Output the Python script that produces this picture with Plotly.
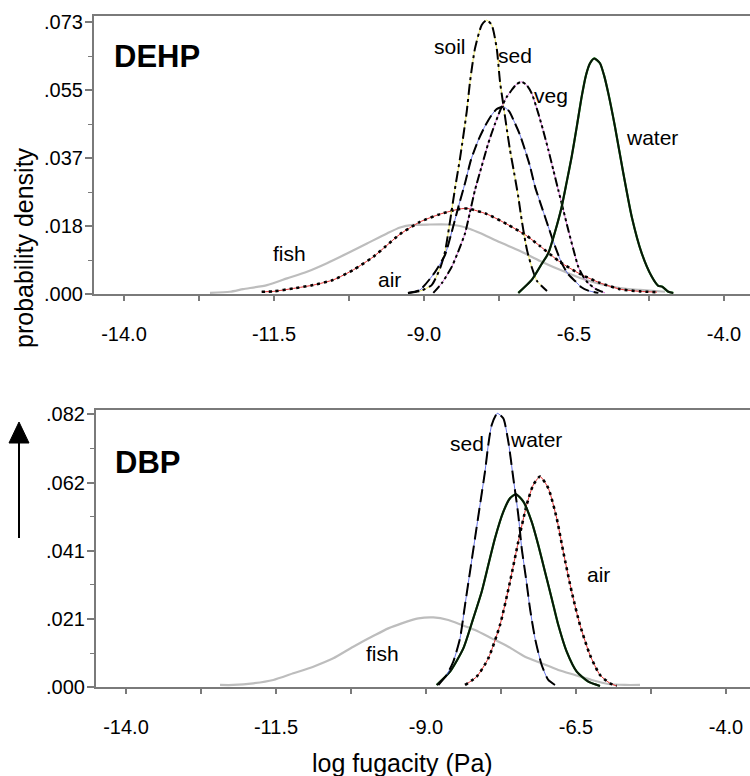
import plotly.graph_objects as go

# ---------------- DATA ----------------
# Top panel: DEHP
dehp_water_x = [-7.428, -7.205, -7.05, -6.928, -6.817, -6.705, -6.622, -6.538, -6.455, -6.372, -6.3, -6.233,
                -6.162, -6.067, -6.0, -5.928, -5.817, -5.678, -5.538, -5.372, -5.205, -5.095, -5.033, -4.928, -4.845]
dehp_water_y = [0.0003, 0.0038, 0.0078, 0.0110, 0.0167, 0.0235, 0.0301, 0.0370, 0.0449, 0.0531, 0.0589, 0.0621,
                0.0634, 0.0621, 0.0589, 0.0540, 0.0450, 0.0325, 0.0208, 0.0110, 0.0047, 0.0022, 0.0020, 0.0006, 0.0003]

dehp_soil_x = [-9.267, -9.067, -8.872, -8.733, -8.65, -8.567, -8.483, -8.4, -8.288, -8.233, -8.15, -8.038, -7.955,
               -7.872, -7.788, -7.733, -7.678, -7.617, -7.567, -7.5, -7.433, -7.367, -7.283, -7.2, -7.117, -6.95]
dehp_soil_y = [0.0003, 0.0008, 0.0024, 0.0069, 0.0114, 0.0195, 0.0284, 0.0365, 0.0491, 0.0571, 0.0661, 0.0724, 0.0737,
               0.0724, 0.0661, 0.0571, 0.0509, 0.0441, 0.0388, 0.0328, 0.0266, 0.0194, 0.0118, 0.0070, 0.0035, 0.0008]

dehp_sed_x = [-9.267, -9.067, -8.817, -8.65, -8.538, -8.433, -8.317, -8.217, -8.095, -7.983, -7.872, -7.783, -7.678,
              -7.583, -7.483, -7.4, -7.317, -7.233, -7.15, -7.05, -6.928, -6.817, -6.705, -6.6, -6.483, -6.383, -6.262, -6.095]
dehp_sed_y = [0.0003, 0.0011, 0.0059, 0.0105, 0.0167, 0.0231, 0.0298, 0.0361, 0.0414, 0.0452, 0.0482, 0.0498, 0.0504,
              0.0492, 0.0459, 0.0428, 0.0388, 0.0344, 0.0289, 0.0240, 0.0181, 0.0129, 0.0083, 0.0054, 0.0035, 0.0019, 0.0009, 0.0003]

dehp_veg_x = [-8.845, -8.7, -8.538, -8.433, -8.317, -8.233, -8.15, -8.038, -7.928, -7.817, -7.705, -7.622, -7.538, -7.455,
              -7.372, -7.288, -7.205, -7.095, -7.012, -6.928, -6.845, -6.762, -6.678, -6.595, -6.512, -6.428, -6.35, -6.262,
              -6.133, -5.983]
dehp_veg_y = [0.0003, 0.0030, 0.0073, 0.0113, 0.0163, 0.0221, 0.0280, 0.0344, 0.0406, 0.0458, 0.0504, 0.0530, 0.0549, 0.0565,
              0.0571, 0.0562, 0.0540, 0.0486, 0.0439, 0.0388, 0.0334, 0.0280, 0.0226, 0.0172, 0.0121, 0.0073, 0.0048, 0.0029,
              0.0013, 0.0003]

dehp_air_x = [-11.705, -11.512, -11.178, -10.845, -10.512, -10.178, -9.845, -9.633, -9.4, -9.067, -8.733, -8.4, -8.267,
              -7.95, -7.617, -7.283, -7.067, -6.733, -6.4, -6.067, -5.733, -5.4, -5.117]
dehp_air_y = [0.0006, 0.0007, 0.0015, 0.0024, 0.0038, 0.0065, 0.0100, 0.0129, 0.0161, 0.0194, 0.0215, 0.0229, 0.0230,
              0.0215, 0.0188, 0.0156, 0.0129, 0.0086, 0.0054, 0.0030, 0.0013, 0.0007, 0.0005]

dehp_fish_x = [-12.567, -12.233, -12.017, -11.617, -11.283, -10.95, -10.617, -10.283, -9.95, -9.617, -9.4, -9.183, -8.9,
               -8.617, -8.4, -8.233, -8.067, -7.733, -7.4, -7.067, -6.733, -6.4, -6.067, -5.733, -5.4, -4.983]
dehp_fish_y = [0.0003, 0.0006, 0.0013, 0.0024, 0.0042, 0.0060, 0.0083, 0.0109, 0.0136, 0.0163, 0.0179, 0.0186, 0.0187,
               0.0187, 0.0183, 0.0175, 0.0164, 0.0139, 0.0116, 0.0089, 0.0065, 0.0043, 0.0027, 0.0016, 0.0011, 0.0006]

# Bottom panel: DBP
dbp_sed_x = [-8.795, -8.655, -8.545, -8.433, -8.35, -8.267, -8.183, -8.1, -8.017, -7.962, -7.905, -7.812, -7.712, -7.628,
             -7.545, -7.462, -7.405, -7.333, -7.267, -7.183, -7.072, -6.962, -6.85]
dbp_sed_y = [0.0007, 0.0037, 0.0077, 0.0147, 0.0247, 0.0347, 0.0448, 0.0548, 0.0648, 0.0728, 0.0788, 0.0823, 0.0808, 0.0738,
             0.0628, 0.0518, 0.0418, 0.0327, 0.0237, 0.0147, 0.0067, 0.0022, 0.0007]

dbp_water_x = [-8.822, -8.6, -8.378, -8.212, -8.072, -7.962, -7.85, -7.712, -7.6, -7.5, -7.378, -7.238, -7.128, -7.017,
               -6.905, -6.795, -6.655, -6.488, -6.295, -6.1]
dbp_water_y = [0.0007, 0.0047, 0.0117, 0.0207, 0.0287, 0.0367, 0.0448, 0.0527, 0.0568, 0.0580, 0.0558, 0.0497, 0.0427, 0.0347,
               0.0267, 0.0187, 0.0107, 0.0047, 0.0017, 0.0004]

dbp_air_x = [-8.35, -8.155, -7.962, -7.767, -7.6, -7.462, -7.322, -7.212, -7.1, -6.962, -6.822, -6.712, -6.572, -6.433,
             -6.267, -6.1, -5.933, -5.822]
dbp_air_y = [0.0007, 0.0032, 0.0087, 0.0187, 0.0317, 0.0437, 0.0548, 0.0608, 0.0633, 0.0598, 0.0508, 0.0407, 0.0287, 0.0187,
             0.0097, 0.0037, 0.0012, 0.0004]

dbp_fish_x = [-12.433, -12.212, -11.878, -11.545, -11.212, -10.878, -10.545, -10.212, -9.85, -9.628, -9.405, -9.128, -8.878,
              -8.628, -8.405, -8.183, -7.905, -7.628, -7.35, -7.072, -6.795, -6.517, -6.238, -5.962, -5.683, -5.433]
dbp_fish_y = [0.0007, 0.0007, 0.0012, 0.0022, 0.0042, 0.0062, 0.0087, 0.0122, 0.0157, 0.0177, 0.0192, 0.0207, 0.0210,
              0.0202, 0.0187, 0.0172, 0.0147, 0.0122, 0.0092, 0.0072, 0.0052, 0.0037, 0.0022, 0.0010, 0.0007, 0.0007]

x_tickvals = [-14.0, -11.5, -9.0, -6.5, -4.0]
x_ticktext = ["-14.0", "-11.5", "-9.0", "-6.5", "-4.0"]
top_tickvals = [0.0, 0.0183, 0.0366, 0.0549, 0.0732]
top_ticktext = [".000", ".018", ".037", ".055", ".073"]
bot_tickvals = [0.0, 0.0205, 0.041, 0.0615, 0.082]
bot_ticktext = [".000", ".021", ".041", ".062", ".082"]

dehp_labels = [("soil", -8.567, 0.0667), ("sed", -7.483, 0.0643), ("veg", -6.878, 0.0535),
               ("water", -5.2, 0.0420), ("fish", -11.25, 0.0108), ("air", -9.567, 0.0038)]
dbp_labels = [("sed", -8.317, 0.0731), ("water", -7.17, 0.0743), ("air", -6.128, 0.0340),
              ("fish", -9.717, 0.0101)]

# ---------------- FIGURE ----------------
W, H = 750, 776
FONT = "Liberation Sans, Arial, sans-serif"
AX_COL = "#7a7a7a"

fig = go.Figure()


def add_curve(x, y, xa, ya, dash, tint, main="black", width=2.0, tint_width=0.8):
    if tint is not None:
        fig.add_trace(go.Scatter(x=x, y=y, xaxis=xa, yaxis=ya, mode="lines",
                                 line=dict(color=tint, width=tint_width, shape="spline", smoothing=0.6),
                                 hoverinfo="skip", showlegend=False))
    fig.add_trace(go.Scatter(x=x, y=y, xaxis=xa, yaxis=ya, mode="lines",
                             line=dict(color=main, width=width, dash=dash, shape="spline", smoothing=0.6),
                             showlegend=False))


# DEHP panel (x, y)
add_curve(dehp_fish_x, dehp_fish_y, "x", "y", "solid", None, main="#bdbdbd", width=2.2)
add_curve(dehp_air_x, dehp_air_y, "x", "y", "3px,4px", "#e03030", width=2.6, tint_width=1.0)
add_curve(dehp_soil_x, dehp_soil_y, "x", "y", "11px,4px,3px,4px", "#e8e040")
add_curve(dehp_sed_x, dehp_sed_y, "x", "y", "11px,5px", "#4050e0")
add_curve(dehp_veg_x, dehp_veg_y, "x", "y", "9px,3px,3px,3px,3px,3px", "#d050d0")
add_curve(dehp_water_x, dehp_water_y, "x", "y", "solid", "#20a020", main="#0a140a", width=2.0, tint_width=2.2)

# DBP panel (x2, y2)
add_curve(dbp_fish_x, dbp_fish_y, "x2", "y2", "solid", None, main="#bdbdbd", width=2.2)
add_curve(dbp_air_x, dbp_air_y, "x2", "y2", "3px,4px", "#e03030", width=2.6, tint_width=1.0)
add_curve(dbp_water_x, dbp_water_y, "x2", "y2", "solid", "#20a020", main="#0a140a", width=2.0, tint_width=2.2)
add_curve(dbp_sed_x, dbp_sed_y, "x2", "y2", "13px,6px", "#4050e0")

annotations = []
for t, x, y in dehp_labels:
    annotations.append(dict(text=t, x=x, y=y, xref="x", yref="y", showarrow=False,
                            xanchor="center", yanchor="middle",
                            font=dict(family=FONT, size=21, color="black")))
for t, x, y in dbp_labels:
    annotations.append(dict(text=t, x=x, y=y, xref="x2", yref="y2", showarrow=False,
                            xanchor="center", yanchor="middle",
                            font=dict(family=FONT, size=21, color="black")))

paper_txt = [
    ("<b>DEHP</b>", 157, 57, 31, 0),
    ("<b>DBP</b>", 147.5, 462, 31, 0),
    ("log fugacity (Pa)", 402, 763, 25, 0),
    ("probability density", 24, 248, 25, -90),
]
for t, px, py, sz, ang in paper_txt:
    annotations.append(dict(text=t, x=px / W, y=1 - py / H, xref="paper", yref="paper", showarrow=False,
                            xanchor="center", yanchor="middle", textangle=ang,
                            font=dict(family=FONT, size=sz, color="black")))

shapes = [
    dict(type="line", xref="paper", yref="paper", x0=19 / W, x1=19 / W, y0=1 - 538 / H, y1=1 - 440 / H,
         line=dict(color="black", width=2)),
    dict(type="path", xref="paper", yref="paper",
         path=f"M {9 / W} {1 - 443 / H} L {29 / W} {1 - 443 / H} L {19 / W} {1 - 422 / H} Z",
         fillcolor="black", line=dict(color="black", width=1)),
]


def xaxis_cfg(domain, rng, anchor):
    return dict(domain=domain, range=rng, anchor=anchor, showline=True, mirror=True, linecolor=AX_COL, linewidth=2,
                showgrid=False, zeroline=False, tickmode="array", tickvals=x_tickvals, ticktext=x_ticktext,
                ticks="outside", ticklen=5, tickcolor=AX_COL, tickwidth=1.5, ticklabelstandoff=16,
                minor=dict(tickmode="linear", tick0=-14.0, dtick=1.25, ticks="outside", ticklen=5,
                           tickcolor=AX_COL, tickwidth=1.5, showgrid=False),
                tickfont=dict(family=FONT, size=20, color="black"), automargin=False, fixedrange=True)


def yaxis_cfg(domain, rng, anchor, tv, tt):
    return dict(domain=domain, range=rng, anchor=anchor, showline=True, mirror=False, linecolor=AX_COL, linewidth=2,
                showgrid=False, zeroline=False, tickmode="array", tickvals=tv, ticktext=tt,
                ticks="outside", ticklen=7, tickcolor=AX_COL, tickwidth=1.5, ticklabelstandoff=-2,
                minor=dict(tickmode="linear", tick0=0, dtick=tv[1] / 2, ticks="outside", ticklen=4,
                           tickcolor=AX_COL, tickwidth=1.2, showgrid=False),
                tickfont=dict(family=FONT, size=20, color="black"), automargin=False, fixedrange=True)


fig.update_layout(
    width=W, height=H,
    margin=dict(l=0, r=0, t=0, b=0),
    paper_bgcolor="white", plot_bgcolor="white",
    showlegend=False,
    xaxis=xaxis_cfg([94 / W, 1.0], [-14.5, -14.0 + 626 / 60], "y"),
    yaxis=yaxis_cfg([1 - 294 / H, 1 - 16 / H], [0, 0.074815], "x", top_tickvals, top_ticktext),
    xaxis2=xaxis_cfg([96 / W, 1.0], [-14.5, -14.0 + 624 / 60], "y2"),
    yaxis2=yaxis_cfg([1 - 687.3 / H, 1 - 410 / H], [0, 0.0833], "x2", bot_tickvals, bot_ticktext),
    annotations=annotations,
    shapes=shapes,
)

fig.write_html("out.html")
